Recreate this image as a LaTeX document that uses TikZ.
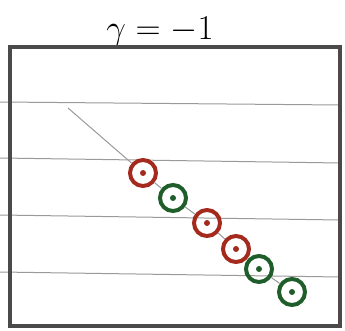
\documentclass[tikz,border=0pt]{standalone}
\usepackage{graphicx}
\usepackage{tikz}

\definecolor{ptR}{HTML}{A52A1E}
\definecolor{ptG}{HTML}{1F5E2A}
\definecolor{ruleC}{HTML}{9A9A9A}
\definecolor{boxC}{HTML}{4A4A4A}

\begin{document}
\begin{tikzpicture}[x=1pt, y=-1pt,
  pt/.style={circle, draw=#1, line width=4pt, minimum size=26pt, inner sep=0pt,
             path picture={\fill[#1] (path picture bounding box.center) circle (3pt);}},
  rule/.style={draw=ruleC, line width=1pt},
]
\useasboundingbox (0,0) rectangle (345,331);

% title
\node[font=\Huge] (title) at (160,32) {\scalebox{1.4}{$\gamma = -1$}};

% notebook rules (drawn first = behind)
\foreach \ya/\yb in {102/105, 158/163, 215/220, 272/277}
  \draw[rule] (0,\ya) -- (340,\yb);

% frame
\draw[boxC, line width=3.4pt] (10,47) rectangle (340,326);

% --- points along the line ---
\coordinate (start) at (68,108);
\node[pt=ptR] (r1) at (143,173) {};
\node[pt=ptG] (g1) at (173,198) {};
\node[pt=ptR] (r2) at (207,223) {};
\node[pt=ptR] (r3) at (236,249) {};
\node[pt=ptG] (g2) at (259,269) {};
\node[pt=ptG] (g3) at (292,292) {};

\draw[black!40, line width=1pt] (start) -- (r1) -- (g1) -- (r2) -- (r3) -- (g2) -- (g3);
\end{tikzpicture}
\end{document}
